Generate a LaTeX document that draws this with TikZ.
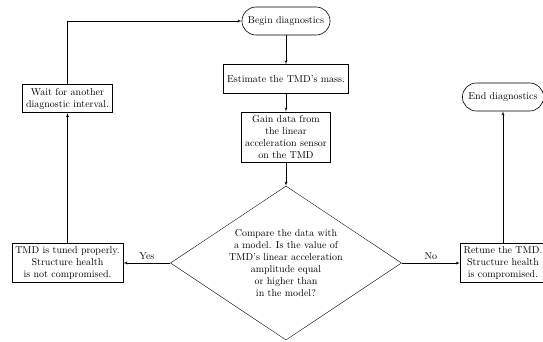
\documentclass[tikz,border=0pt]{standalone}
\usetikzlibrary{arrows,positioning,shapes.geometric}

\begin{document}
\begin{tikzpicture}[
		node distance=58pt,
		>=latex',
		terminal/.style={
			rectangle,
			rounded corners=14pt,
			draw=black,
			semithick,
			minimum height=28pt,
			inner xsep=6pt,
			fill=white
		},
		process/.style={
			rectangle,
			draw=black,
			thick,
			align=center,
			minimum height=1cm,
			fill=white
		},
		decision/.style={
			diamond,
			aspect=1.5,
			draw=black,
			align=center,
			fill=white
		},
		answer/.style={
			above
		}
		]
		\useasboundingbox (-286pt,21pt) rectangle (257pt,-320pt);
		% We start by placing the blocks
		
		\node [terminal] (begin) {Begin diagnostics};
		
		\node [process, below of=begin] (estimate) {Estimate the TMD's mass.};
		
		\node [process, below of=estimate] (gain)
		{Gain data from\\the linear\\acceleration sensor\\on the TMD};
		
		\node [decision, node distance=126pt, below of=gain] (compare)
		{Compare the data with\\a model. Is the value of\\TMD's linear acceleration\\amplitude equal\\or higher than\\in the model?};
		
		\node [process, node distance=218.5pt, left of=compare] (tuned)
		{TMD is tuned properly.\\Structure health\\is not compromised.};
		
		\node [process, node distance=164.5pt, above of=tuned] (wait)
		{Wait for another\\diagnostic interval.};
		
		\node [process, node distance=217pt, right of=compare] (retune)
		{Retune the TMD.\\Structure health\\is compromised.};
		
		\node [terminal, node distance=166pt, above of=retune] (end) {End diagnostics};
		
		% Then the connectors
		\draw [->] (begin) -- (estimate);
		\draw [->] (estimate) -- (gain);
		\draw [->] (gain) -- (compare);
		\draw [->] (compare) -- node [answer] {Yes} (tuned);
		\draw [->] (compare) -- node [answer] {No} (retune);
		\draw [->] (tuned) -- (wait);
		\draw [->] (wait) |- (begin);
		\draw [->] (retune) -- (end);
		
\end{tikzpicture}
\end{document}
